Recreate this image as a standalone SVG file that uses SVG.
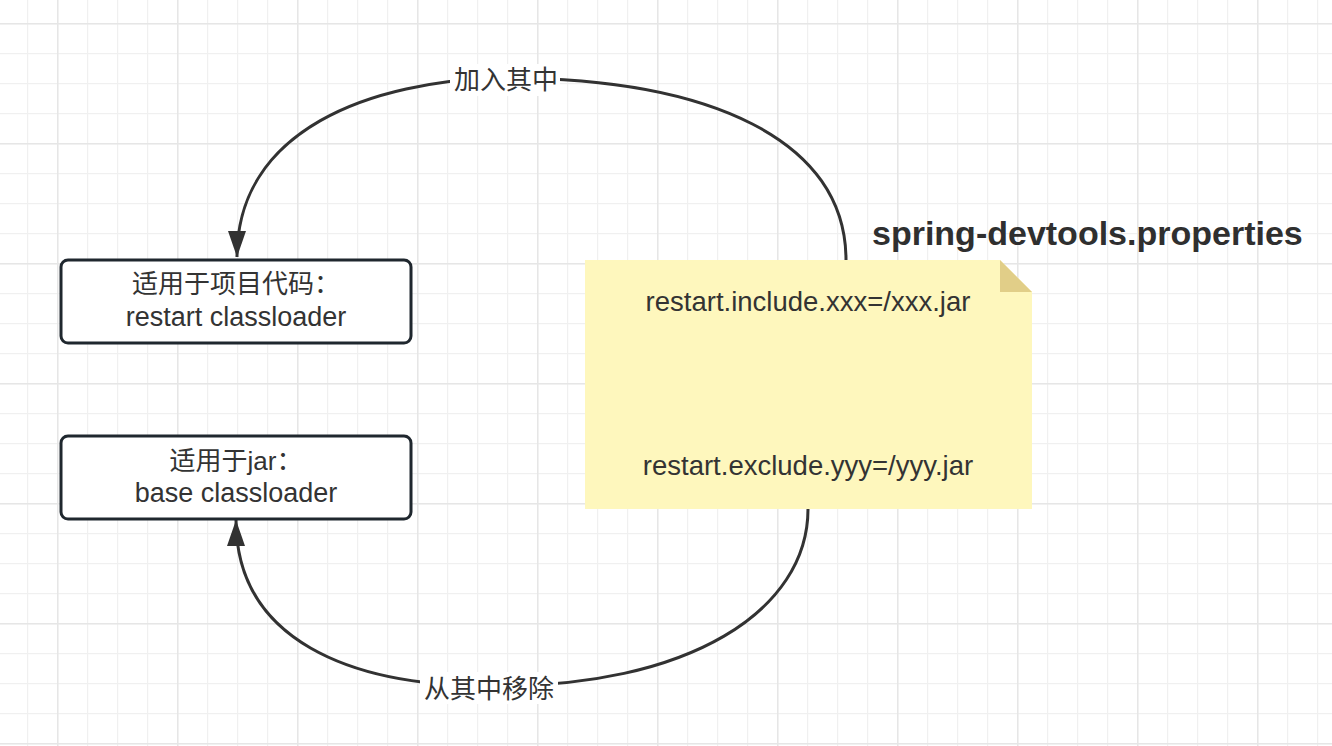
<svg xmlns="http://www.w3.org/2000/svg" width="1332" height="746" viewBox="0 0 1332 746">
<style>
.t{font-family:"Liberation Sans","Noto Sans CJK SC",sans-serif;fill:#333333;text-anchor:middle}
.cjk{font-size:26px}
.lat{font-size:27px}
.note{font-size:27.5px}
.box{fill:#ffffff;stroke:#1f272e;stroke-width:3}
.conn{fill:none;stroke:#323232;stroke-width:3}
.title{font-family:"Liberation Sans",sans-serif;font-weight:bold;font-size:34px;fill:#2f2f2f}
</style>
<defs>
<pattern id="minor" patternUnits="userSpaceOnUse" x="27" y="23" width="30" height="30">
<rect x="0" y="0" width="30" height="1.2" fill="#f0f0f0"/>
<rect x="0" y="0" width="1.2" height="30" fill="#f0f0f0"/>
</pattern>
<pattern id="major" patternUnits="userSpaceOnUse" x="57" y="23" width="120" height="120">
<rect x="0" y="0" width="120" height="1.5" fill="#e6e6e6"/>
<rect x="0" y="0" width="1.5" height="120" fill="#e6e6e6"/>
</pattern>
<marker id="arr" markerUnits="userSpaceOnUse" markerWidth="28" markerHeight="20" refX="26" refY="9" orient="auto">
<path d="M0,0 L26,9 L0,18 Z" fill="#323232"/>
</marker>
</defs>
<rect width="1332" height="746" fill="#ffffff"/>
<rect width="1332" height="746" fill="url(#minor)"/>
<rect width="1332" height="746" fill="url(#major)"/>

<g id="connectors">
<path class="conn" d="M846,260 C846,140 710,78 505,78 C370,80 237,130 237,257" marker-end="url(#arr)"/>
<path class="conn" d="M808,509 C808,610 690,688 490,686 C350,686 236,640 236,520" marker-end="url(#arr)"/>
<g id="label-add">
<rect x="450" y="64" width="110" height="32" fill="#ffffff"/>
<text class="t cjk" x="506" y="89">加入其中</text>
</g>
<g id="label-remove">
<rect x="420" y="672" width="138" height="32" fill="#ffffff"/>
<text class="t cjk" x="489" y="698">从其中移除</text>
</g>
</g>

<g id="node-restart">
<rect class="box" x="61" y="260" width="350" height="83" rx="7"/>
<text class="t cjk" x="236" y="293">适用于项目代码：</text>
<text class="t lat" x="236" y="326">restart classloader</text>
</g>

<g id="node-base">
<rect class="box" x="61" y="436" width="350" height="83" rx="7"/>
<text class="t cjk" x="236" y="470">适用于jar：</text>
<text class="t lat" x="236" y="502">base classloader</text>
</g>

<g id="node-properties">
<path d="M585,260 H1000 L1032,292 V509 H585 Z" fill="#fef7bd"/>
<path d="M1000,260 L1032,292 H1000 Z" fill="#e1ce88"/>
<text class="t note" x="808" y="311">restart.include.xxx=/xxx.jar</text>
<text class="t note" x="808" y="475">restart.exclude.yyy=/yyy.jar</text>
</g>

<g id="title">
<text class="title" x="872" y="245">spring-devtools.properties</text>
</g>
</svg>
